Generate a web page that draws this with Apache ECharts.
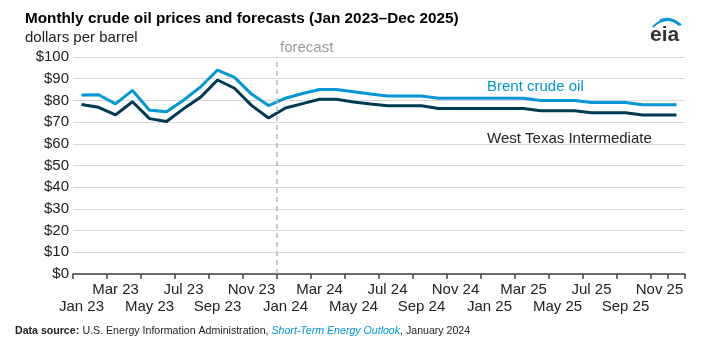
<!DOCTYPE html>
<html>
<head>
<meta charset="utf-8">
<script src="https://cdn.jsdelivr.net/npm/echarts@6/dist/echarts.min.js"></script>
<style>
html,body{margin:0;padding:0;background:#fff;}
#chart{width:722px;height:358px;}
</style>
</head>
<body>
<div id="chart"></div>
<script>
const months = ['Jan 23','Feb 23','Mar 23','Apr 23','May 23','Jun 23','Jul 23','Aug 23','Sep 23','Oct 23','Nov 23','Dec 23',
  'Jan 24','Feb 24','Mar 24','Apr 24','May 24','Jun 24','Jul 24','Aug 24','Sep 24','Oct 24','Nov 24','Dec 24',
  'Jan 25','Feb 25','Mar 25','Apr 25','May 25','Jun 25','Jul 25','Aug 25','Sep 25','Oct 25','Nov 25','Dec 25'];
const brent = [82.5,82.6,78.4,84.6,75.5,74.8,80.1,86.2,94.0,90.6,82.9,77.6,
  81.0,83.2,85.0,85.0,84.0,83.0,82.0,82.0,82.0,81.0,81.0,81.0,
  81.0,81.0,81.0,80.0,80.0,80.0,79.0,79.0,79.0,78.0,78.0,78.0];
const wti = [78.1,76.8,73.3,79.4,71.6,70.3,76.1,81.4,89.4,85.6,77.7,71.9,
  76.5,78.5,80.5,80.5,79.3,78.3,77.5,77.5,77.5,76.3,76.3,76.3,
  76.3,76.3,76.3,75.2,75.2,75.2,74.3,74.3,74.3,73.3,73.3,73.3];
const forecastBoundary = 12; // months from Jan 23 to the forecast start (Jan 24)
const yTicks = {min:0, max:100, interval:10};

const FONT = '"Liberation Sans", Arial, sans-serif';
const labelBase = {show:true, showMinLabel:true, showMaxLabel:true, hideOverlap:false,
  color:'#222', fontSize:15, fontFamily:FONT};
const chart = echarts.init(document.getElementById('chart'), null, {renderer:'canvas'});
chart.setOption({
  animation:false,
  backgroundColor:'#fff',
  textStyle:{fontFamily:FONT},
  grid:{left:73, right:37, top:57, bottom:84, containLabel:false},
  xAxis:[{
    type:'category', data:months, boundaryGap:true, position:'bottom',
    axisLine:{show:true, lineStyle:{color:'#444', width:1.5}},
    axisTick:{show:true, interval:1, length:5, alignWithLabel:false, lineStyle:{color:'#444', width:1.5}},
    axisLabel:Object.assign({}, labelBase, {margin:8, interval:(i)=> i%4===2}),
    splitLine:{show:false}
  },{
    type:'category', data:months, boundaryGap:true, position:'bottom', offset:0,
    axisLine:{show:false}, axisTick:{show:false},
    axisLabel:Object.assign({}, labelBase, {margin:25, interval:(i)=> i%4===0}),
    splitLine:{show:false}
  },{
    type:'value', min:0, max:months.length, show:false
  }],
  yAxis:{
    type:'value', min:yTicks.min, max:yTicks.max, interval:yTicks.interval,
    axisLine:{show:false}, axisTick:{show:false},
    axisLabel:{color:'#222', fontSize:15, fontFamily:FONT, margin:4, formatter:v=>'$'+v},
    splitLine:{lineStyle:{color:'#d9d9d9', width:1}}
  },
  series:[
    {name:'forecast', type:'line', xAxisIndex:2, data:[], silent:true,
      markLine:{symbol:'none', silent:true, label:{show:false},
        lineStyle:{type:[5,4], color:'#b5b5b5', width:1.5},
        data:[{xAxis:forecastBoundary}]}},
    {name:'Brent crude oil', type:'line', xAxisIndex:0, data:brent, showSymbol:false, symbol:'none',
      lineStyle:{color:'#0096d7', width:3}, itemStyle:{color:'#0096d7'}},
    {name:'West Texas Intermediate', type:'line', xAxisIndex:0, data:wti, showSymbol:false, symbol:'none',
      lineStyle:{color:'#003953', width:3}, itemStyle:{color:'#003953'}}
  ],
  graphic:[
    {type:'text', left:25, top:11, style:{text:'Monthly crude oil prices and forecasts (Jan 2023\u2013Dec 2025)', font:'bold 15.3px '+FONT, fill:'#000'}},
    {type:'text', left:25, top:30, style:{text:'dollars per barrel', font:'15px '+FONT, fill:'#222'}},
    {type:'text', left:280, top:40, style:{text:'forecast', font:'15px '+FONT, fill:'#999'}},
    {type:'text', left:487, top:79, style:{text:'Brent crude oil', font:'15px '+FONT, fill:'#0096d7'}},
    {type:'text', left:487, top:131, style:{text:'West Texas Intermediate', font:'15px '+FONT, fill:'#222'}},
    {type:'text', left:650, top:25, style:{text:'eia', font:'bold 21px '+FONT, fill:'#333'}},
    {type:'bezierCurve', shape:{x1:653, y1:27, cpx1:665, cpy1:14, x2:681, y2:25}, style:{stroke:'#0096d7', lineWidth:2, fill:null}},
    {type:'bezierCurve', shape:{x1:660, y1:21, cpx1:670, cpy1:16, x2:680, y2:25}, style:{stroke:'#0096d7', lineWidth:3, fill:null}},
    {type:'text', left:15, top:325, style:{rich:{
        b:{font:'bold 10.6px '+FONT, fill:'#222'},
        n:{font:'10.6px '+FONT, fill:'#222'},
        i:{font:'italic 10.6px '+FONT, fill:'#0096d7'}},
      text:'{b|Data source:} {n|U.S. Energy Information Administration, }{i|Short-Term Energy Outlook}{n|, January 2024}'}}
  ]
});
</script>
</body>
</html>
